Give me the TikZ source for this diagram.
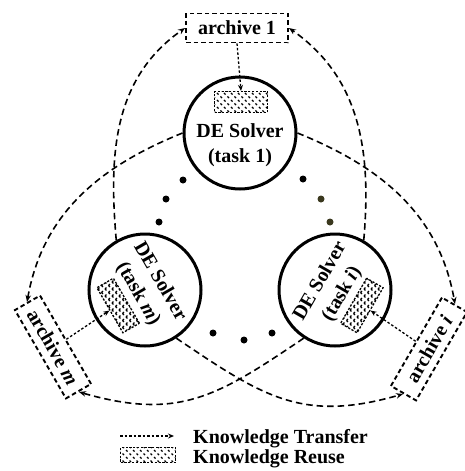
\documentclass[tikz,border=0pt]{standalone}
\usepackage{fontspec}
\setmainfont{Liberation Serif}
\usetikzlibrary{arrows.meta,patterns}

% dashed diagonal hatching for the reuse boxes
\pgfdeclarepatternformonly{dotdiag}{\pgfqpoint{-1pt}{-1pt}}{\pgfqpoint{8pt}{8pt}}{\pgfqpoint{7pt}{7pt}}{%
  \pgfsetlinewidth{1.2pt}%
  \pgfpathmoveto{\pgfqpoint{0pt}{7pt}}\pgfpathlineto{\pgfqpoint{1.6pt}{5.4pt}}%
  \pgfpathmoveto{\pgfqpoint{3.5pt}{3.5pt}}\pgfpathlineto{\pgfqpoint{5.1pt}{1.9pt}}%
  \pgfusepath{stroke}}
\pgfdeclarepatternformonly{dotcross}{\pgfqpoint{-1pt}{-1pt}}{\pgfqpoint{8pt}{8pt}}{\pgfqpoint{7pt}{7pt}}{%
  \pgfsetlinewidth{1.1pt}%
  \pgfpathmoveto{\pgfqpoint{0pt}{7pt}}\pgfpathlineto{\pgfqpoint{1.4pt}{5.6pt}}%
  \pgfpathmoveto{\pgfqpoint{3.5pt}{3.5pt}}\pgfpathlineto{\pgfqpoint{4.9pt}{2.1pt}}%
  \pgfpathmoveto{\pgfqpoint{0pt}{0pt}}\pgfpathlineto{\pgfqpoint{1.4pt}{1.4pt}}%
  \pgfpathmoveto{\pgfqpoint{3.5pt}{3.5pt}}\pgfpathlineto{\pgfqpoint{4.9pt}{4.9pt}}%
  \pgfusepath{stroke}}

\newcommand\lblfont{\bfseries\fontsize{20}{24}\selectfont}
\definecolor{dotolive}{RGB}{58,56,30}

\tikzset{
  solver/.style={circle, draw, line width=3pt, minimum size=112pt, inner sep=0pt},
  solvertext/.style={font=\lblfont, inner sep=0pt},
  archive/.style={draw, line width=1.9pt, dash pattern=on 4.5pt off 3pt,
    minimum width=102pt, minimum height=29pt, inner sep=0pt, font=\lblfont},
  hatchbox/.style={draw, line width=1.3pt, dash pattern=on 2.2pt off 1.6pt,
    minimum width=53pt, minimum height=21pt, inner sep=0pt, pattern=dotdiag},
  transfer/.style={line width=1.6pt, dash pattern=on 6.5pt off 4pt,
    -{Stealth[length=7pt,width=5.5pt]}},
  reuse/.style={line width=1.3pt, dash pattern=on 2.5pt off 2pt,
    -{Stealth[length=6pt,width=5pt]}},
  dotmark/.style={circle, fill, inner sep=0pt, minimum size=7pt},
  legendtext/.style={font=\lblfont, inner sep=0pt, anchor=base west}
}

\begin{document}
\begin{tikzpicture}[x=1pt, y=1pt]
\useasboundingbox (0,0) rectangle (465,-471);

% solver circles
\node[solver] (c1) at (240,-133) {};
\node[solver] (cm) at (145,-290) {};
\node[solver] (ci) at (335,-290) {};

% top solver contents
\node[hatchbox] (h1) at (241,-102) {};
\node[solvertext, anchor=base] (t1a) at (240,-137) {DE Solver};
\node[solvertext, anchor=base] (t1b) at (240,-162) {(task 1)};

% left solver contents
\begin{scope}[shift={(145,-290)}, rotate=-60, transform shape]
  \node[solvertext, anchor=base] (tma) at (0,12) {DE Solver};
  \node[solvertext, anchor=base] (tmb) at (0,-13) {(task \textit{m})};
  \node[hatchbox, pattern=dotcross, minimum width=52pt, minimum height=19pt] (hm) at (0,-31) {};
\end{scope}

% right solver contents
\begin{scope}[shift={(335,-290)}, rotate=60, transform shape]
  \node[solvertext, anchor=base] (tia) at (0,12) {DE Solver};
  \node[solvertext, anchor=base] (tib) at (0,-13) {(task \textit{i})};
  \node[hatchbox, pattern=dotcross, minimum width=52pt, minimum height=19pt] (hi) at (0,-31) {};
\end{scope}

% archives
\node[archive] (arch1) at (237,-28) {archive 1};
\node[archive, rotate=-60] (archm) at (53,-347) {archive \textit{m}};
\node[archive, rotate=60] (archi) at (429,-349) {archive \textit{i}};

% further tasks
\node[dotmark] (d1) at (183,-180) {};
\node[dotmark] (d2) at (166,-199) {};
\node[dotmark] (d3) at (159,-222) {};
\node[dotmark] (d4) at (303,-179) {};
\node[dotmark, dotolive] (d5) at (321,-199) {};
\node[dotmark, dotolive] (d6) at (330,-222) {};
\node[dotmark] (d7) at (213,-333) {};
\node[dotmark] (d8) at (244,-340) {};
\node[dotmark] (d9) at (272,-333) {};

% knowledge transfer between tasks
\draw[transfer] (cm.120) to[out=95,in=215] (arch1.west);
\draw[transfer] (ci.60) to[out=85,in=-35] (arch1.east);
\draw[transfer] (c1.180) to[out=202,in=80] (archm.west);
\draw[transfer] (c1.0) to[out=-22,in=100] (archi.east);
\draw[transfer] (cm.-57) to[out=-34,in=196,looseness=1.15] (archi.west);
\draw[transfer] (ci.-123) to[out=214,in=-16,looseness=1.15] (archm.east);

% reuse from the own archive
\draw[reuse] (arch1.south) -- (h1.north);
\draw[reuse] (archm.north) -- (hm.south);
\draw[reuse] (archi.north) -- (hi.south);

% legend
\coordinate (lg0) at (120,-436);
\coordinate (lg1) at (174,-436);
\draw[reuse] (lg0) -- (lg1);
\node[legendtext] (lgt) at (193,-443) {Knowledge Transfer};
\node[hatchbox, minimum width=55pt, minimum height=15pt] (lgh) at (148,-455) {};
\node[legendtext] (lgr) at (193,-463) {Knowledge Reuse};
\end{tikzpicture}
\end{document}
